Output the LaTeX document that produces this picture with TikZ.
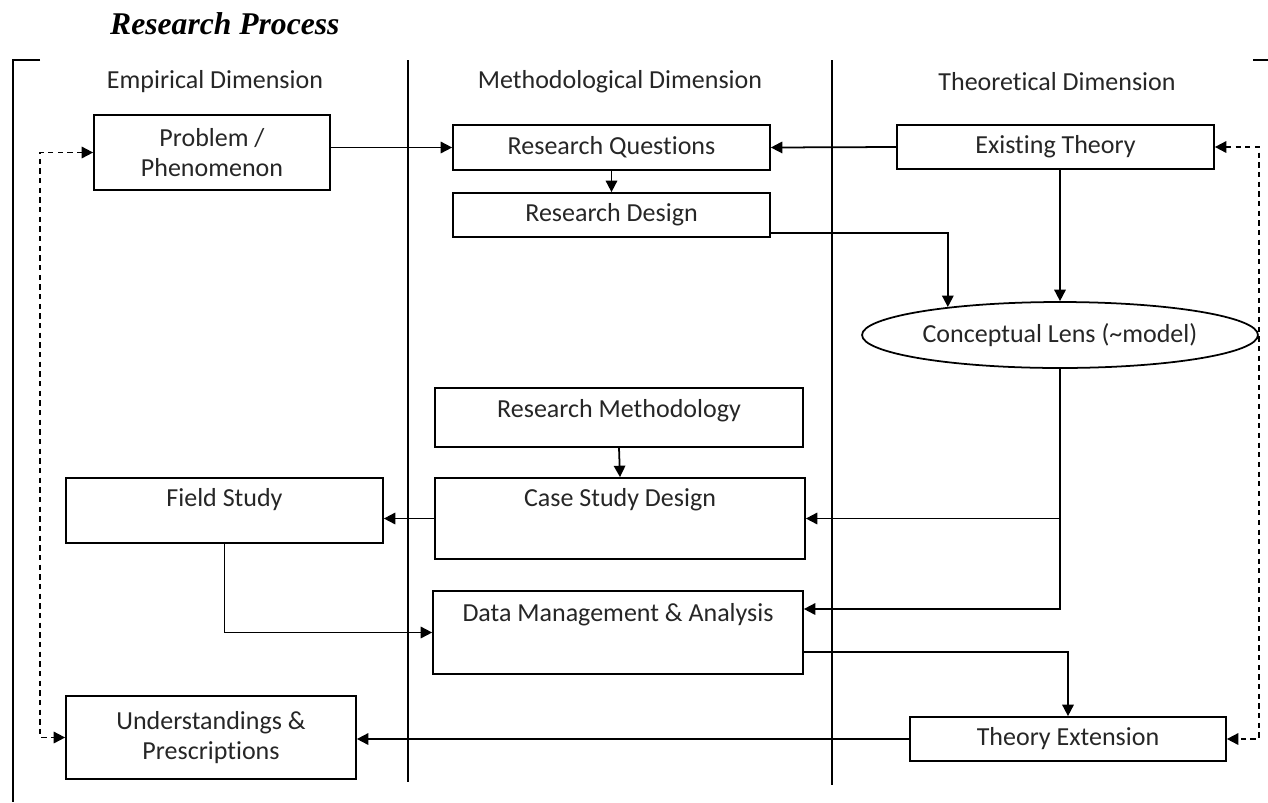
\documentclass[tikz,border=0pt]{standalone}
\usepackage{fontspec}
\setmainfont[Ligatures=NoCommon]{Carlito}
\newfontfamily\titlefont{Liberation Serif}
\usetikzlibrary{shapes.geometric, arrows.meta}

\begin{document}
\begin{tikzpicture}[x=0.02cm, y=-0.02cm,
  every node/.style={text=black!85},
  box/.style={draw=black, rectangle, line width=1pt, align=center, inner sep=2pt},
  topbox/.style={box, text height=10pt},
  lensshape/.style={draw=black, ellipse, line width=1pt, inner sep=0pt},
  link/.style={line width=1pt, ->},
  >={Triangle[length=6.5pt, width=6.5pt]},
  font=\fontsize{14.8}{17.5}\selectfont]
\useasboundingbox (0,0) rectangle (1268,802);

\node[anchor=base west, text=black, font=\titlefont\bfseries\itshape\fontsize{18}{20}\selectfont] (title) at (104,34) {Research Process};

% frame and columns
\draw[line width=1pt] (40,60) -- (13,60) -- (13,802);
\draw[line width=1pt] (1253,60) -- (1268,60);
\draw[line width=1pt] (408,60) -- (408,782);
\draw[line width=1pt] (832,60) -- (832,785);

\node (emp) at (215,82) {Empirical Dimension};
\node (meth) at (620,82) {Methodological Dimension};
\node (theo) at (1057,82) {Theoretical Dimension};

\node[box, minimum width=4.72cm, minimum height=1.5cm] (prob) at (212,152.5) {Problem /\\Phenomenon};
\node[box, minimum width=6.34cm, minimum height=0.9cm] (rq) at (611.5,147.5) {Research Questions};
\node[box, minimum width=6.34cm, minimum height=0.88cm] (et) at (1055.5,147) {Existing Theory};
\node[box, minimum width=6.34cm, minimum height=0.88cm] (rd) at (611.5,215) {Research Design};
\node[lensshape, minimum width=7.92cm, minimum height=1.32cm] (lens) at (1060,335) {Conceptual Lens (\textasciitilde model)};
\node[topbox, text depth=9.6pt, minimum width=7.36cm, minimum height=1.18cm] (rm) at (619,417.5) {Research Methodology};
\node[topbox, text depth=23.8pt, minimum width=7.4cm, minimum height=1.62cm] (csd) at (620,518.5) {Case Study Design};
\node[topbox, text depth=15pt, minimum width=6.34cm, minimum height=1.3cm] (fs) at (224.5,510.5) {Field Study};
\node[topbox, text depth=23pt, minimum width=7.4cm, minimum height=1.66cm] (dma) at (618,632.5) {Data Management \& Analysis};
\node[box, minimum width=5.8cm, minimum height=1.66cm] (up) at (211,737.5) {Understandings \&\\Prescriptions};
\node[box, minimum width=6.32cm, minimum height=0.88cm] (te) at (1068,739) {Theory Extension};

% links
\draw[link] (prob.east |- rq.west) -- (rq.west);
\draw[link] (et.west) -- (rq.east);
\draw[link] (rq.south) -- (rd.north);
\draw[link] ([yshift=-0.36cm]rd.east) -| (lens.166);
\draw[link] (et.south -| lens.north) -- (lens.north);
\draw[link] (lens.south) |- (csd.east);
\draw[link] (lens.south) |- ([yshift=0.47cm]dma.east);
\draw[link] (rm.south) -- (csd.north);
\draw[link] (csd.west) -- (fs.east |- csd.west);
\draw[link] (fs.south) |- (dma.west);
\draw[link] ([yshift=-0.39cm]dma.east) -| (te.north);
\draw[link] (te.west) -- (up.east |- te.west);

% feedback
\draw[link, dash pattern=on 3pt off 2.5pt, <->] (prob.west) -- ++(-53,0) |- (up.west);
\draw[link, dash pattern=on 3pt off 2.5pt, <->] (et.east) -- ++(44,0) |- (te.east);
\end{tikzpicture}
\end{document}
